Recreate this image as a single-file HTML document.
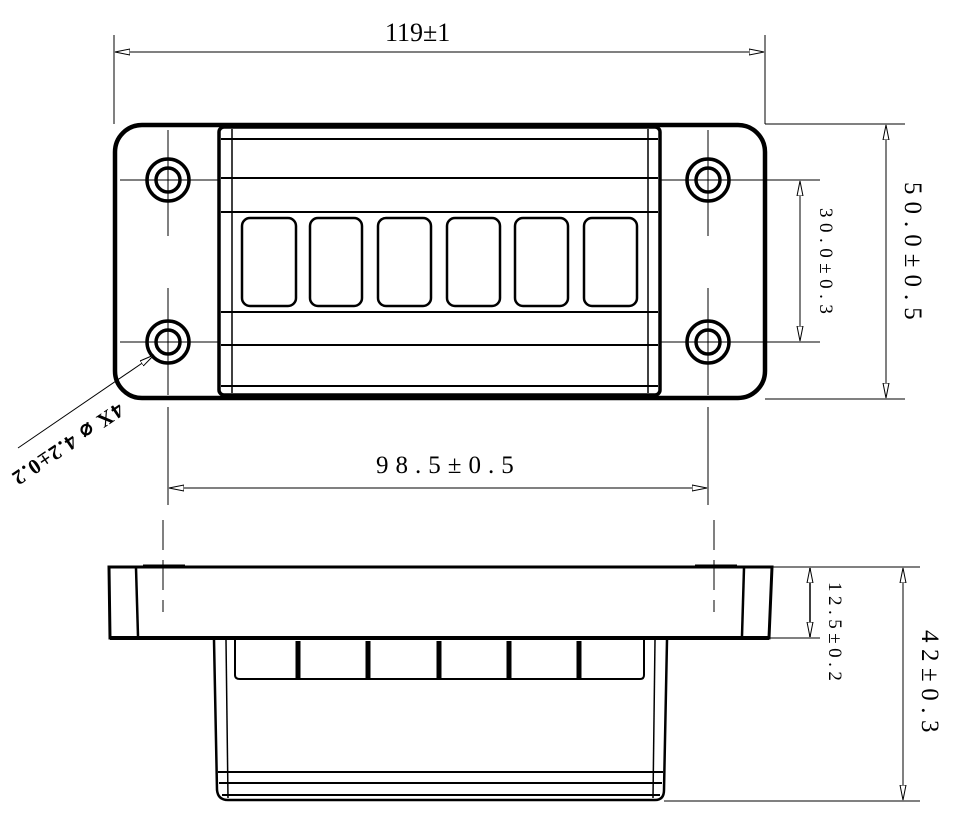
<!DOCTYPE html>
<html><head><meta charset="utf-8"><style>
html,body{margin:0;padding:0;background:#fff;}
svg{display:block;}
text{font-family:"Liberation Serif",serif;fill:#000;}
</style></head><body>
<svg width="980" height="828" viewBox="0 0 980 828" xmlns="http://www.w3.org/2000/svg">
<defs>
<marker id="ar" markerWidth="16" markerHeight="8" refX="15" refY="4" orient="auto" markerUnits="userSpaceOnUse">
<path d="M0,1 L15,4 L0,7 Z" fill="#fff" stroke="#000" stroke-width="1"/>
</marker>
</defs>
<g stroke="#000" fill="none">
<line x1="114" y1="35" x2="114" y2="124" stroke-width="1"/>
<line x1="765" y1="35" x2="765" y2="124" stroke-width="1"/>
<line x1="440" y1="52" x2="115" y2="52" stroke-width="1" marker-end="url(#ar)"/>
<line x1="440" y1="52" x2="764" y2="52" stroke-width="1" marker-end="url(#ar)"/>
<rect x="115" y="125" width="650" height="273" rx="27" stroke-width="4.5"/>
<rect x="219" y="127" width="441" height="268" rx="5" stroke-width="3.5"/>
<line x1="232" y1="129" x2="232" y2="393" stroke-width="1.5"/>
<line x1="648" y1="129" x2="648" y2="393" stroke-width="1.5"/>
<g stroke-width="2">
<line x1="221" y1="139" x2="658" y2="139"/>
<line x1="221" y1="178" x2="658" y2="178"/>
<line x1="221" y1="212" x2="658" y2="212"/>
<line x1="221" y1="312" x2="658" y2="312"/>
<line x1="221" y1="345" x2="658" y2="345"/>
<line x1="221" y1="386" x2="658" y2="386"/>
</g>
<g stroke-width="2.5">
<rect x="242" y="218" width="54" height="88" rx="8"/>
<rect x="310" y="218" width="52" height="88" rx="8"/>
<rect x="378" y="218" width="53" height="88" rx="8"/>
<rect x="447" y="218" width="53" height="88" rx="8"/>
<rect x="515" y="218" width="53" height="88" rx="8"/>
<rect x="584" y="218" width="53" height="88" rx="8"/>
</g>
<g stroke-width="3.5">
<circle cx="168" cy="180" r="21"/><circle cx="168" cy="180" r="12"/>
<circle cx="708" cy="180" r="21"/><circle cx="708" cy="180" r="12"/>
<circle cx="168" cy="342" r="21"/><circle cx="168" cy="342" r="12"/>
<circle cx="708" cy="342" r="21"/><circle cx="708" cy="342" r="12"/>
</g>
<g stroke-width="1">
<line x1="120" y1="180" x2="218" y2="180"/>
<line x1="120" y1="342" x2="218" y2="342"/>
<line x1="660" y1="180" x2="820" y2="180"/>
<line x1="660" y1="342" x2="820" y2="342"/>
<line x1="168" y1="130" x2="168" y2="236"/>
<line x1="168" y1="288" x2="168" y2="395"/>
<line x1="708" y1="130" x2="708" y2="236"/>
<line x1="708" y1="288" x2="708" y2="395"/>
<line x1="168" y1="407" x2="168" y2="505"/>
<line x1="708" y1="407" x2="708" y2="505"/>
</g>
<line x1="440" y1="488" x2="169" y2="488" stroke-width="1" marker-end="url(#ar)"/>
<line x1="440" y1="488" x2="707" y2="488" stroke-width="1" marker-end="url(#ar)"/>
<line x1="765" y1="124" x2="905" y2="124" stroke-width="1"/>
<line x1="765" y1="399" x2="905" y2="399" stroke-width="1"/>
<line x1="886" y1="260" x2="886" y2="125" stroke-width="1" marker-end="url(#ar)"/>
<line x1="886" y1="260" x2="886" y2="398" stroke-width="1" marker-end="url(#ar)"/>
<line x1="800" y1="260" x2="800" y2="181" stroke-width="1" marker-end="url(#ar)"/>
<line x1="800" y1="260" x2="800" y2="341" stroke-width="1" marker-end="url(#ar)"/>
<line x1="18" y1="448" x2="154" y2="355" stroke-width="1" marker-end="url(#ar)"/>

<g stroke-width="1" stroke-dasharray="30,10">
<line x1="163" y1="520" x2="163" y2="612"/>
<line x1="714" y1="520" x2="714" y2="612"/>
</g>
<path d="M109,567 L772,567 L769,638 L110,638 Z" stroke-width="3"/>
<line x1="136" y1="568" x2="138" y2="636" stroke-width="2.5"/>
<line x1="744" y1="568" x2="742" y2="636" stroke-width="2.5"/>
<line x1="110" y1="638" x2="769" y2="638" stroke-width="4"/>
<line x1="143" y1="566" x2="185" y2="566" stroke-width="3"/>
<line x1="695" y1="566" x2="737" y2="566" stroke-width="3"/>
<path d="M214,640 L217,790 Q218,800 228,800 L655,800 Q664,800 664,790 L667,640" stroke-width="2.5"/>
<line x1="226" y1="640" x2="228" y2="798" stroke-width="1.5"/>
<line x1="655" y1="640" x2="653" y2="798" stroke-width="1.5"/>
<path d="M235,640 L235,675 Q235,679 240,679 L640,679 Q644,679 644,675 L644,640" stroke-width="2"/>
<g stroke-width="5">
<line x1="298" y1="641" x2="298" y2="679"/>
<line x1="368" y1="641" x2="368" y2="679"/>
<line x1="439" y1="641" x2="439" y2="679"/>
<line x1="509" y1="641" x2="509" y2="679"/>
<line x1="579" y1="641" x2="579" y2="679"/>
</g>
<g stroke-width="2">
<line x1="218" y1="772" x2="663" y2="772"/>
<line x1="219" y1="783" x2="662" y2="783"/>
<line x1="222" y1="795" x2="660" y2="795"/>
</g>
<line x1="772" y1="567" x2="920" y2="567" stroke-width="1"/>
<line x1="769" y1="638" x2="820" y2="638" stroke-width="1"/>
<line x1="664" y1="801" x2="920" y2="801" stroke-width="1"/>
<line x1="810" y1="600" x2="810" y2="568" stroke-width="1.5" marker-end="url(#ar)"/>
<line x1="810" y1="600" x2="810" y2="637" stroke-width="1.5" marker-end="url(#ar)"/>
<line x1="903" y1="680" x2="903" y2="568" stroke-width="1" marker-end="url(#ar)"/>
<line x1="903" y1="680" x2="903" y2="800" stroke-width="1" marker-end="url(#ar)"/>
</g>

<text x="385" y="41" font-size="26">119±1</text>
<text x="376" y="473" font-size="25" letter-spacing="7">98.5±0.5</text>
<text transform="translate(905,182) rotate(90)" font-size="25" letter-spacing="7">50.0±0.5</text>
<text transform="translate(820,208) rotate(90)" font-size="19" letter-spacing="5.5">30.0±0.3</text>
<text transform="translate(829,582) rotate(90)" font-size="19" letter-spacing="4.5">12.5±0.2</text>
<text transform="translate(922,630) rotate(90)" font-size="25" letter-spacing="6.5">42±0.3</text>
<text transform="translate(118,402) rotate(146)" font-size="21" letter-spacing="1.5" font-family="Liberation Sans, sans-serif" font-weight="bold">4X ⌀ 4.2±0.2</text>
</svg>
</body></html>
